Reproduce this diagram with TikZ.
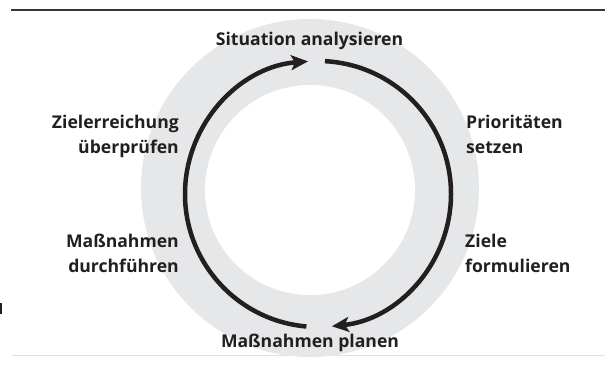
\documentclass[tikz,border=0pt]{standalone}
\usepackage{fontspec}
\setmainfont{Open Sans}
\usetikzlibrary{arrows.meta}
\definecolor{ringgray}{HTML}{E6E7E8}
\definecolor{inkdark}{HTML}{231F20}

\begin{document}
\begin{tikzpicture}[x=1pt, y=1pt,
  every node/.style = {inner sep=0pt, text=inkdark,
    font=\fontsize{17.6}{25}\selectfont\bfseries},
  right label/.style = {align=left, anchor=base west},
  left label/.style = {align=right, anchor=base east},
  cycle arrow/.style = {draw=inkdark, line width=4.5pt,
    -{Stealth[length=17pt, width=15pt, inset=4pt]}}]
  \useasboundingbox (0,0) rectangle (616,365);

  % rules above and below
  \draw[inkdark!90, line width=1.8pt] (11,355) -- (605,355);
  \draw[black!12, line width=0.8pt] (12,10) -- (605,10);
  \draw[inkdark, line width=1.2pt] (1,51) -- (1,62);

  % grey ring
  \fill[ringgray] (310,177) circle[radius=169];
  \fill[white] (310,175) circle[radius=105];

  % the steps
  \node (situation) at (309.5,319) [anchor=base] {Situation analysieren};
  \node (prioritaeten) at (466,212) [right label] {Prioritäten\\setzen};
  \node (ziele) at (465,93) [right label] {Ziele\\formulieren};
  \node (planen) at (310,18) [anchor=base] {Maßnahmen planen};
  \node (durchfuehren) at (179,93) [left label] {Maßnahmen\\durchführen};
  \node (ueberpruefen) at (179,212) [left label] {Zielerreichung\\überprüfen};

  % the cycle
  \coordinate (hub) at (318,171);
  \draw[cycle arrow] (hub) ++(87:133) arc[start angle=87, end angle=-84, radius=133];
  \draw[cycle arrow] (hub) ++(265:133) arc[start angle=265, end angle=94.3, radius=133];
\end{tikzpicture}
\end{document}
